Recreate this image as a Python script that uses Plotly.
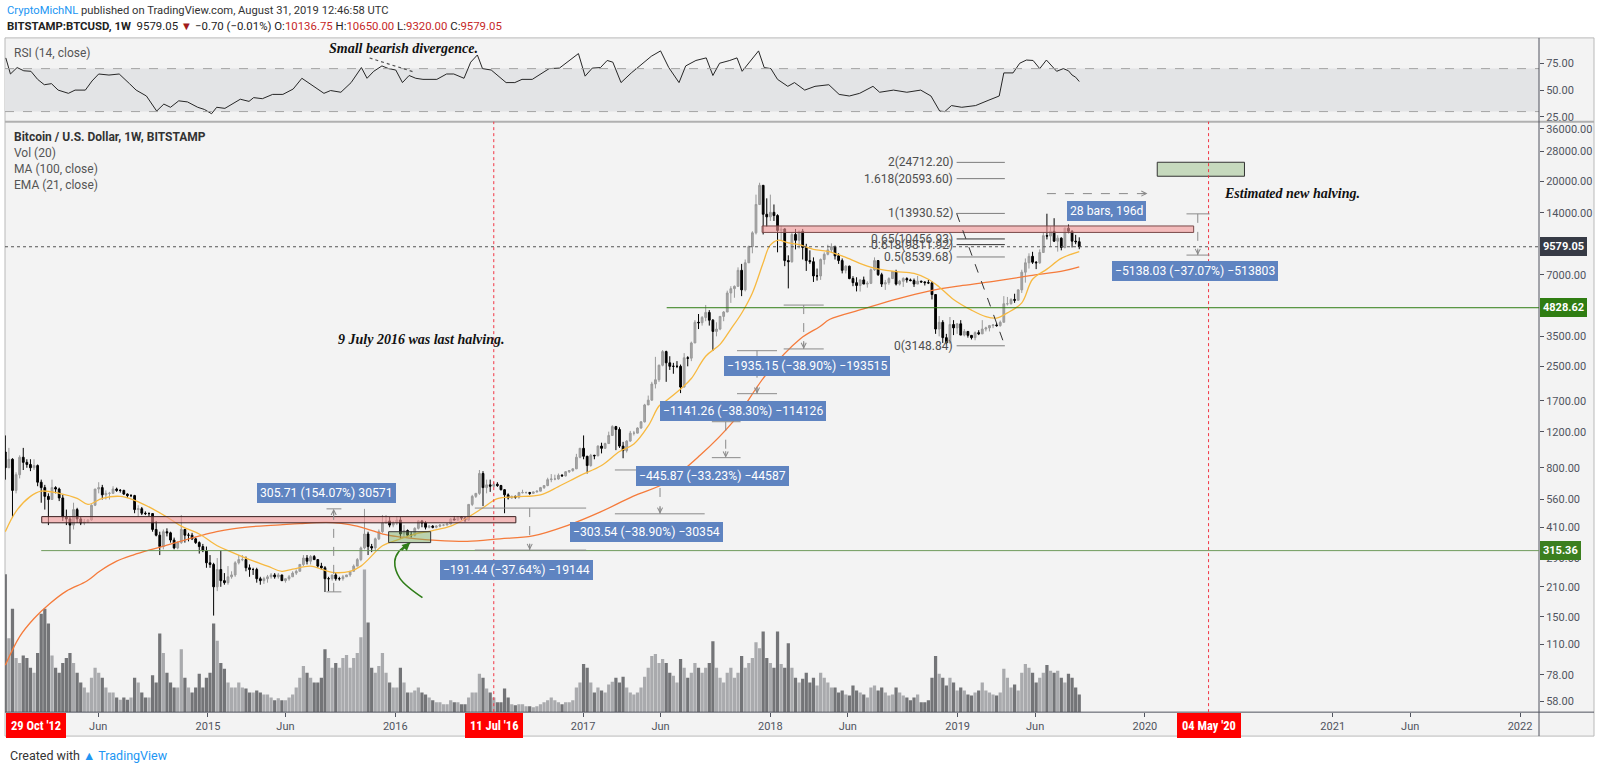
import numpy as np
import pandas as pd
import plotly.graph_objects as go

W, H = 1600, 771

# weekly BITSTAMP:BTCUSD candles, week of 2 Dec 2013 up to the week of 26 Aug 2019
first_week = "2013-12-02"
first_open = 955.0

high_2013 = [1150, 1000, 890, 760, 920]
low_2013 = [700, 800, 455, 600, 710]
close_2013 = [800, 880, 620, 740, 900]

high_2014 = [1000, 880, 880, 880, 830, 700, 660, 600, 700, 650, 640, 590, 500, 460, 540, 510, 460,
             450, 450, 530, 630, 680, 660, 620, 610, 650, 640, 630, 625, 600, 595, 590, 525, 515,
             490, 485, 480, 440, 390, 400, 405, 390, 365, 350, 470, 400, 385, 385, 365, 350, 340, 330]
low_2014 = [780, 800, 770, 780, 650, 540, 500, 420, 560, 600, 550, 440, 420, 340, 400, 430, 420,
            420, 430, 440, 520, 600, 560, 560, 560, 600, 610, 605, 590, 570, 575, 480, 460, 470,
            470, 460, 390, 370, 300, 320, 370, 345, 320, 320, 340, 345, 350, 355, 340, 305, 310, 260]
close_2014 = [850, 830, 800, 820, 680, 640, 580, 560, 640, 630, 570, 460, 450, 420, 500, 450, 430,
              435, 445, 525, 630, 640, 590, 600, 600, 630, 620, 620, 595, 585, 585, 500, 505, 480,
              478, 478, 400, 375, 330, 390, 385, 355, 325, 345, 400, 375, 375, 360, 345, 330, 315, 275]

high_2015 = [300, 275, 290, 315, 245, 265, 250, 280, 300, 300, 295, 270, 260, 260, 235, 235, 240,
             245, 245, 245, 240, 230, 240, 250, 255, 270, 300, 300, 300, 300, 285, 275, 265, 235, 240,
             245, 235, 240, 240, 250, 270, 290, 330, 504, 390, 340, 365, 400, 470, 470, 460, 440]
low_2015 = [260, 152, 200, 210, 215, 215, 230, 235, 270, 280, 250, 235, 240, 220, 215, 217, 220,
            230, 230, 230, 225, 220, 225, 235, 240, 250, 265, 270, 270, 285, 260, 255, 198, 200, 225,
            225, 225, 225, 235, 235, 250, 265, 280, 320, 300, 310, 315, 355, 385, 430, 410, 410]
close_2015 = [270, 210, 255, 225, 220, 235, 240, 275, 285, 285, 260, 255, 255, 230, 225, 230, 235,
              240, 235, 240, 225, 230, 235, 245, 250, 270, 290, 280, 295, 285, 265, 260, 230, 230, 240,
              230, 230, 235, 240, 250, 265, 285, 325, 380, 330, 325, 360, 390, 430, 440, 420, 430]

high_2016 = [465, 460, 420, 400, 390, 410, 445, 445, 440, 420, 420, 420, 425, 425, 430, 455, 465,
             465, 465, 460, 530, 590, 600, 780, 770, 700, 700, 680, 680, 660, 630, 600, 585, 585, 610,
             625, 612, 610, 612, 620, 645, 655, 715, 745, 740, 750, 745, 770, 775, 795, 935, 1000]
low_2016 = [420, 360, 365, 370, 365, 370, 400, 410, 400, 405, 405, 405, 410, 415, 420, 425, 445,
            440, 445, 435, 440, 520, 570, 590, 520, 600, 610, 640, 645, 620, 480, 560, 565, 565, 565,
            600, 600, 590, 598, 605, 615, 630, 650, 680, 695, 700, 725, 725, 755, 765, 790, 890]
close_2016 = [445, 380, 395, 375, 375, 405, 440, 430, 410, 415, 410, 415, 420, 420, 425, 450, 445,
              460, 455, 445, 530, 580, 600, 750, 640, 660, 650, 665, 655, 625, 590, 570, 580, 575, 605,
              605, 605, 600, 610, 615, 640, 655, 700, 705, 705, 735, 730, 765, 775, 790, 900, 995]

high_2017 = [1150, 915, 935, 925, 1030, 1060, 1060, 1200, 1290, 1280, 1260, 1070, 1090, 1210, 1210,
             1260, 1350, 1640, 1800, 2100, 2780, 2550, 3000, 2980, 2800, 2600, 2650, 2550, 2900, 2800,
             3300, 4200, 4500, 4400, 4980, 4700, 4250, 4100, 4400, 4650, 5850, 6150, 6200, 7600, 7900,
             8300, 9700, 11400, 17200, 19666, 19100, 16500]
low_2017 = [880, 750, 810, 880, 910, 940, 990, 1050, 1150, 975, 1000, 890, 950, 1070, 1150, 1180,
            1240, 1330, 1620, 1700, 1950, 2100, 2500, 2100, 2400, 2300, 2450, 1850, 1970, 2500, 2650,
            3250, 3800, 3950, 4150, 3950, 2970, 3500, 3750, 4150, 4600, 5100, 5400, 6100, 5500, 5800,
            8000, 8900, 11000, 15300, 11000, 12000]
close_2017 = [910, 820, 920, 915, 1020, 995, 1050, 1150, 1270, 1230, 1020, 970, 1080, 1180, 1180,
              1250, 1340, 1620, 1710, 2050, 2150, 2530, 2950, 2600, 2500, 2500, 2500, 1980, 2750, 2740,
              3250, 4100, 4080, 4330, 4580, 4200, 3700, 3800, 4380, 4600, 5700, 5980, 6140, 7350, 5900,
              8000, 9600, 11200, 15400, 19100, 13800, 13400]

high_2018 = [17200, 15400, 13800, 12100, 11800, 8700, 11200, 11700, 11500, 11700, 9900, 9200, 8500,
             7500, 8400, 9000, 9800, 9950, 9700, 8900, 8400, 7780, 7750, 6880, 6800, 6650, 6850, 6500,
             7500, 8500, 8250, 7150, 6600, 6800, 7300, 7400, 6600, 6800, 6800, 6700, 6700, 6900, 6550,
             6500, 6600, 6500, 5600, 4400, 4200, 3600, 4350, 4200, 4050]
low_2018 = [12800, 12800, 9000, 10300, 7700, 6000, 8000, 9300, 9400, 8300, 7300, 7900, 6450, 6550,
            6600, 7850, 8700, 9000, 8300, 7900, 7100, 7100, 6650, 6150, 5800, 5790, 6300, 6050, 6300,
            7300, 6900, 6100, 5900, 6250, 6680, 6200, 6200, 6100, 6400, 6500, 6100, 6300, 6400, 6200,
            6300, 5300, 3600, 3500, 3250, 3200, 3250, 3550, 3600]
close_2018 = [14100, 13600, 11500, 11700, 8200, 8100, 11000, 10300, 11400, 9500, 8200, 8100, 6900,
              6900, 8300, 8800, 9250, 9600, 8650, 8200, 7350, 7700, 6700, 6400, 6200, 6600, 6300, 6350,
              7400, 8200, 7000, 6300, 6400, 6700, 7250, 6300, 6500, 6700, 6600, 6550, 6300, 6500, 6450,
              6400, 6380, 5600, 3800, 4100, 3450, 3250, 4000, 3850, 4030]

high_2019 = [4200, 3800, 3700, 3550, 3700, 3750, 4200, 3900, 3980, 4000, 4070, 4180, 5500, 5450,
             5370, 5650, 5950, 7400, 8400, 8900, 9050, 8150, 9300, 11300, 13880, 12000, 13200, 10900,
             10650, 11900, 12300, 11550, 10950, 10650]
low_2019 = [3550, 3500, 3450, 3380, 3350, 3550, 3600, 3700, 3700, 3840, 3900, 3900, 4100, 4950, 5000,
            5100, 5250, 5700, 6400, 7500, 7900, 7450, 7900, 8950, 10400, 9600, 10100, 9070, 9200, 9400,
            11150, 9500, 9850, 9320]
close_2019 = [3550, 3700, 3540, 3450, 3650, 3600, 3800, 3850, 3950, 3980, 3950, 4100, 5050, 5050,
              5300, 5250, 5900, 7200, 8000, 8600, 8050, 8000, 8980, 10850, 10800, 11400, 10200, 10550,
              9500, 11800, 11400, 10200, 10136.75, 9579.05]

# weekly volume, thousand BTC
vol_2013 = [560, 300, 420, 220, 200]
vol_2014 = [230, 220, 180, 160, 240, 400, 420, 360, 230, 180, 160, 200, 220, 240, 200, 160, 120,
            100, 80, 140, 180, 160, 140, 100, 80, 80, 60, 50, 60, 50, 60, 140, 120, 80,
            60, 60, 150, 120, 320, 240, 160, 120, 100, 100, 256, 140, 100, 80, 100, 156, 100, 140]
vol_2015 = [160, 360, 290, 200, 176, 120, 100, 100, 120, 100, 96, 80, 80, 88, 80, 72, 72,
            60, 48, 56, 48, 48, 60, 72, 100, 140, 188, 160, 140, 120, 120, 140, 256, 220, 180,
            200, 180, 220, 232, 180, 220, 240, 304, 580, 364, 180, 160, 188, 240, 160, 120, 100]
vol_2016 = [100, 180, 120, 80, 80, 88, 100, 80, 72, 60, 48, 40, 40, 32, 32, 48, 40,
            40, 32, 32, 60, 80, 80, 156, 140, 96, 80, 60, 40, 40, 96, 60, 32, 28, 32,
            32, 24, 24, 20, 24, 32, 40, 48, 60, 48, 40, 32, 40, 40, 48, 100, 120]
vol_2017 = [196, 180, 120, 80, 100, 88, 80, 112, 124, 140, 120, 144, 100, 80, 72, 80, 100,
            144, 180, 228, 236, 200, 216, 200, 160, 148, 120, 216, 180, 140, 160, 200, 180, 160, 180,
            200, 288, 180, 140, 120, 160, 180, 140, 160, 228, 180, 200, 220, 284, 260, 328, 220]
vol_2018 = [200, 180, 328, 196, 180, 280, 180, 140, 120, 136, 160, 120, 140, 108, 160, 140, 120, 100,
            100, 80, 88, 72, 68, 108, 88, 80, 72, 60, 100, 108, 88, 100, 80, 68, 72,
            100, 80, 68, 60, 48, 60, 72, 40, 40, 48, 140, 228, 156, 140, 108, 140, 120, 88]
vol_2019 = [100, 88, 72, 68, 80, 88, 120, 88, 80, 72, 68, 80, 176, 140, 100, 112, 88,
            160, 196, 180, 160, 120, 140, 160, 192, 168, 160, 168, 140, 120, 156, 140, 100, 72]

# indicators
ema_dates = ["2013-12-02", "2013-12-23", "2014-01-20", "2014-02-10", "2014-03-17", "2014-04-21",
             "2014-05-12", "2014-06-09", "2014-07-14", "2014-08-11", "2014-09-08", "2014-10-13",
             "2014-11-10", "2014-12-15", "2015-01-19", "2015-02-16", "2015-03-23", "2015-04-27",
             "2015-05-25", "2015-06-15", "2015-07-20", "2015-08-10", "2015-08-31", "2015-10-05",
             "2015-10-26", "2015-11-09", "2015-12-07", "2016-01-11", "2016-02-08", "2016-03-14",
             "2016-04-18", "2016-05-16", "2016-06-20", "2016-07-18", "2016-08-22", "2016-10-10",
             "2016-11-14", "2016-12-26", "2017-02-06", "2017-03-13", "2017-04-10", "2017-05-08",
             "2017-05-29", "2017-06-12", "2017-07-10", "2017-07-31", "2017-08-28", "2017-09-25",
             "2017-10-16", "2017-11-06", "2017-11-27", "2017-12-18", "2017-12-31", "2018-01-15",
             "2018-02-05", "2018-02-26", "2018-03-26", "2018-04-23", "2018-05-28", "2018-07-09",
             "2018-08-06", "2018-09-03", "2018-10-08", "2018-11-05", "2018-11-26", "2018-12-24",
             "2019-01-28", "2019-02-25", "2019-03-18", "2019-04-08", "2019-05-06", "2019-05-27",
             "2019-06-24", "2019-07-22", "2019-08-26"]
ema_values = [390, 490, 580, 615, 600, 567, 530, 567, 580, 555, 515, 460, 415, 380,
              333, 310, 285, 265, 250, 256, 265, 256, 247, 250, 265, 285, 333,
              360, 380, 395, 415, 450, 510, 565, 577, 590, 647, 732,
              820, 960, 1045, 1280, 1600, 1700, 1940, 2180, 2800, 3200, 3800, 4540, 5700, 8000, 9700,
              10300, 10000, 9800, 9300, 9100, 8500, 7700, 7400, 7250, 7100, 6650, 6100, 5300,
              4700, 4370, 4300, 4560, 5100, 6650, 7450, 8400, 9060]

ma_dates = ["2013-12-02", "2013-12-30", "2014-01-27", "2014-02-27", "2014-03-31", "2014-05-10",
            "2014-06-04", "2014-07-07", "2014-08-08", "2014-09-10", "2014-10-13", "2014-11-13",
            "2014-12-16", "2015-01-18", "2015-02-18", "2015-03-23", "2015-04-26", "2015-05-27",
            "2015-06-29", "2015-08-01", "2015-09-01", "2015-10-04", "2015-11-06", "2015-12-08",
            "2016-01-10", "2016-02-12", "2016-03-14", "2016-05-20", "2016-07-23", "2016-09-25",
            "2016-12-01", "2017-02-03", "2017-04-08", "2017-06-13", "2017-08-17", "2017-10-20",
            "2017-12-25", "2018-02-28", "2018-04-07", "2018-04-27", "2018-06-30", "2018-09-04",
            "2018-11-08", "2019-01-11", "2019-03-18", "2019-05-22", "2019-07-28", "2019-08-26"]
ma_values = [87, 120, 147, 174, 200, 224, 250, 280, 300, 318, 335, 353, 372,
             390, 403, 412, 418, 422, 427, 432, 432, 422, 403, 380,
             368, 360, 355, 350, 360, 372, 418, 486, 580, 680, 920, 1340, 2300,
             3400, 3900, 4240, 4750, 5320, 5840, 6200, 6530, 6920, 7330, 7650]

rsi_dates = ["2013-12-03", "2013-12-12", "2013-12-25", "2014-01-07", "2014-01-21", "2014-02-03",
             "2014-02-16", "2014-03-02", "2014-03-15", "2014-04-04", "2014-04-17", "2014-05-07",
             "2014-05-20", "2014-06-02", "2014-06-22", "2014-07-12", "2014-08-01", "2014-08-14",
             "2014-09-03", "2014-09-23", "2014-10-07", "2014-10-20", "2014-11-05", "2014-11-22",
             "2014-12-12", "2014-12-25", "2015-01-08", "2015-01-18", "2015-02-03", "2015-02-17",
             "2015-03-05", "2015-03-22", "2015-03-31", "2015-04-17", "2015-05-07", "2015-05-27",
             "2015-06-16", "2015-07-03", "2015-07-19", "2015-08-02", "2015-08-15", "2015-08-28",
             "2015-09-17", "2015-10-07", "2015-10-27", "2015-11-07", "2015-11-20", "2015-12-06",
             "2015-12-19", "2016-01-02", "2016-01-15", "2016-01-28", "2016-02-10", "2016-02-24",
             "2016-03-22", "2016-04-10", "2016-04-24", "2016-05-14", "2016-05-27", "2016-06-09",
             "2016-06-19", "2016-07-06", "2016-07-19", "2016-08-04", "2016-08-21", "2016-09-04",
             "2016-09-24", "2016-10-14", "2016-10-27", "2016-11-16", "2016-12-06", "2016-12-23",
             "2017-01-05", "2017-01-19", "2017-02-04", "2017-02-17", "2017-02-28", "2017-03-16",
             "2017-04-05", "2017-04-25", "2017-05-14", "2017-06-01", "2017-06-17", "2017-07-07",
             "2017-07-20", "2017-08-09", "2017-08-29", "2017-09-11", "2017-09-24", "2017-10-14",
             "2017-10-28", "2017-11-07", "2017-11-21", "2017-12-09", "2017-12-20", "2018-01-02",
             "2018-01-15", "2018-02-04", "2018-02-17", "2018-03-09", "2018-03-29", "2018-04-25",
             "2018-05-15", "2018-06-04", "2018-06-24", "2018-07-20", "2018-08-02", "2018-08-29",
             "2018-09-24", "2018-10-21", "2018-11-10", "2018-11-27", "2018-12-07", "2018-12-20",
             "2019-01-09", "2019-02-05", "2019-03-03", "2019-03-23", "2019-04-01", "2019-04-19",
             "2019-05-02", "2019-05-15", "2019-05-28", "2019-06-10", "2019-06-23", "2019-07-13",
             "2019-07-26", "2019-08-05", "2019-08-12", "2019-08-19", "2019-08-26"]
rsi_values = [80, 65, 71, 68, 67.5, 60, 55, 56, 50, 47, 50, 50, 58.5, 65, 64, 65, 56, 50, 44.5, 30.5,
              37, 34, 40, 39, 34, 32, 28, 34, 33, 37, 41.5, 39.5, 43, 42, 46, 46, 51, 61, 56, 51,
              47, 49.6, 48, 57, 71, 61, 67.5, 72.5, 70, 68.7, 57, 63.6, 61, 60, 60, 65, 65, 61, 76, 82.7,
              70, 68.7, 63.6, 57, 57, 60, 60, 66, 70, 70.5, 77.6, 84, 63, 70.5, 71, 77.6, 76, 57, 66, 74,
              81.5, 86.5, 71, 57, 72.5, 77.6, 80, 63.6, 75, 77.6, 80, 67.5, 76, 86.5, 71, 70, 60, 53.5,
              57, 50, 53.5, 55, 46, 44.5, 47, 53.5, 48, 50, 48, 50, 44.5, 30.5, 30, 35.6, 34, 35.6,
              40.7, 44.5, 66, 66, 75, 78, 77.6, 70, 78, 67.5, 70, 68, 64, 62, 58]

# drawings on the chart
fib_names = ["2", "1.618", "1", "0.65", "0.618", "0.5", "0"]
fib_prices = [24712.20, 20593.60, 13930.52, 10456.93, 9811.92, 8539.68, 3148.84]

m_from = [198.40, 508.60, 780.30, 1341.80, 2979.80, 4974.65, 13860.30]
m_to = [504.11, 317.16, 476.76, 895.93, 1838.54, 3039.50, 8722.27]
m_x0 = ["2015-08-20", "2016-06-04", "2017-03-04", "2017-09-09", "2017-10-28", "2018-01-27", "2020-03-22"]
m_x1 = ["2015-09-18", "2017-01-07", "2017-08-26", "2017-11-04", "2018-01-14", "2018-04-15", "2020-05-06"]
m_mid = ["2015-09-03", "2016-09-19", "2017-05-31", "2017-10-06", "2017-12-06", "2018-03-07", "2020-04-13"]
m_text = ["305.71 (154.07%) 30571", "\u2212191.44 (\u221237.64%) \u221219144",
          "\u2212303.54 (\u221238.90%) \u221230354", "\u2212445.87 (\u221233.23%) \u221244587",
          "\u22121141.26 (\u221238.30%) \u2212114126", "\u22121935.15 (\u221238.90%) \u2212193515",
          "\u22125138.03 (\u221237.07%) \u2212513803"]
m_label_x = ["2015-08-19", "2016-08-24", "2017-05-05", "2017-09-11", "2017-11-08", "2018-03-13", "2020-04-07"]
m_label_y = [602, 255, 390, 731, 1507, 2523, 7270]

price_ticks = [36000, 28000, 20000, 14000, 7000, 3500, 2500, 1700, 1200, 800, 560, 410, 290, 210, 150, 110, 78, 58]
x_tick_dates = ["2014-06-01", "2015-01-01", "2015-06-01", "2016-01-01", "2017-01-01", "2017-06-01",
                "2018-01-01", "2018-06-01", "2019-01-01", "2019-06-01", "2020-01-01", "2021-01-01",
                "2021-06-01", "2022-01-01"]
x_tick_text = ["Jun", "2015", "Jun", "2016", "2017", "Jun", "2018", "Jun", "2019", "Jun", "2020", "2021", "Jun", "2022"]

# ---- assemble
high = high_2013 + high_2014 + high_2015 + high_2016 + high_2017 + high_2018 + high_2019
low = low_2013 + low_2014 + low_2015 + low_2016 + low_2017 + low_2018 + low_2019
close = close_2013 + close_2014 + close_2015 + close_2016 + close_2017 + close_2018 + close_2019
volume = vol_2013 + vol_2014 + vol_2015 + vol_2016 + vol_2017 + vol_2018 + vol_2019
weeks = pd.date_range(first_week, periods=len(close), freq="7D")
opens = [first_open] + close[:-1]
vol_colors = ["#a9aaad" if c >= o else "#737477" for o, c in zip(opens, close)]


def px(x):
    return x / W


def py(y):
    return 1 - y / H


L, R = 5, 1539          # plot left edge, price scale line
FR, FB = 1594, 738      # outer frame right / bottom
RSI_T, RSI_B = 38, 122
P_T, P_B = 122, 714
lg = np.log10

fig = go.Figure()
fig.add_trace(go.Bar(x=weeks, y=volume, marker=dict(color=vol_colors, line_width=0),
                     width=7 * 86400000 * 0.9, xaxis="x", yaxis="y", hoverinfo="skip"))
fig.add_trace(go.Candlestick(
    x=weeks, open=opens, high=high, low=low, close=close, xaxis="x", yaxis="y2",
    increasing=dict(line=dict(color="#9a9a9a", width=1), fillcolor="#a6a6a6"),
    decreasing=dict(line=dict(color="#000000", width=1), fillcolor="#000000"),
    whiskerwidth=0))
fig.add_trace(go.Scatter(x=ma_dates, y=ma_values, mode="lines", xaxis="x", yaxis="y2",
                         line=dict(color="#f57b3b", width=1.3, shape="spline")))
fig.add_trace(go.Scatter(x=ema_dates, y=ema_values, mode="lines", xaxis="x", yaxis="y2",
                         line=dict(color="#f7b940", width=1.3, shape="spline")))
fig.add_trace(go.Scatter(x=rsi_dates, y=rsi_values, mode="lines", xaxis="x2", yaxis="y3",
                         line=dict(color="#262626", width=1)))

# green hand-drawn arrow
arrow_dates = ["2016-02-23", "2016-01-10", "2015-12-31", "2016-01-08", "2016-01-30"]
arrow_prices = [186, 231, 279, 312, 345]
fig.add_trace(go.Scatter(x=arrow_dates, y=arrow_prices, mode="lines", xaxis="x", yaxis="y2",
                         line=dict(color="#2f7d18", width=1.6, shape="spline")))

shapes = []
# chart frame and panel background
shapes.append(dict(type="rect", xref="paper", yref="paper", x0=px(L), x1=px(FR), y0=py(FB), y1=py(RSI_T),
                   fillcolor="#f3f3f3", line=dict(color="#b9b9b9", width=1), layer="below"))
shapes.append(dict(type="rect", xref="x2 domain", yref="y3", x0=0, x1=1, y0=30, y1=70,
                   fillcolor="#e3e4e6", line_width=0, layer="below"))
for lvl in (30, 70):
    shapes.append(dict(type="line", xref="x2 domain", yref="y3", x0=0, x1=1, y0=lvl, y1=lvl,
                       line=dict(color="#a3a3a3", width=1, dash="dash")))
shapes.append(dict(type="line", xref="paper", yref="paper", x0=px(L), x1=px(FR), y0=py(P_T), y1=py(P_T),
                   line=dict(color="#b0b0b0", width=2)))
shapes.append(dict(type="line", xref="paper", yref="paper", x0=px(R), x1=px(R), y0=py(FB), y1=py(RSI_T),
                   line=dict(color="#50535e", width=1)))
shapes.append(dict(type="line", xref="paper", yref="paper", x0=px(L), x1=px(FR), y0=py(P_B), y1=py(P_B),
                   line=dict(color="#50535e", width=1)))

# RSI divergence line
shapes.append(dict(type="line", xref="x2", yref="y3", x0="2015-11-12", y0=79.9, x1="2016-02-06", y1=66.9,
                   line=dict(color="#555555", width=1.2, dash="dot")))

# zones
shapes.append(dict(type="rect", xref="x", yref="y2", x0="2014-02-11", x1="2016-08-23", y0=431, y1=462,
                   fillcolor="rgba(244,150,150,0.6)", line=dict(color="#3b2222", width=1)))
shapes.append(dict(type="rect", xref="x", yref="y2", x0="2017-12-16", x1="2020-04-05", y0=11250, y1=12100,
                   fillcolor="rgba(244,150,150,0.6)", line=dict(color="#7a4a4a", width=1)))
shapes.append(dict(type="rect", xref="x", yref="y2", x0="2015-12-19", x1="2016-03-10", y0=345, y1=390,
                   fillcolor="rgba(120,170,90,0.45)", line=dict(color="#333333", width=1)))
shapes.append(dict(type="rect", xref="x", yref="y2", x0="2020-01-25", x1="2020-07-13", y0=21150, y1=24750,
                   fillcolor="#c6d9bd", line=dict(color="#333333", width=1)))

# horizontal levels
x_end = "2022-02-07"
shapes.append(dict(type="line", xref="x", yref="y2", x0="2014-02-10", x1=x_end, y0=315.36, y1=315.36,
                   line=dict(color="#6f9a5c", width=1)))
shapes.append(dict(type="line", xref="x", yref="y2", x0="2017-06-13", x1=x_end, y0=4828.62, y1=4828.62,
                   line=dict(color="#2f7d12", width=1)))
shapes.append(dict(type="line", xref="x domain", yref="y2", x0=0, x1=1, y0=9579.05, y1=9579.05,
                   line=dict(color="#555555", width=1, dash="dot")))

# halving lines
for d in ("2016-07-11", "2020-05-04"):
    shapes.append(dict(type="line", xref="x", yref="paper", x0=d, x1=d, y0=py(P_B), y1=py(P_T),
                       line=dict(color="#f23645", width=1, dash="dot")))

# fibonacci
for name, p in zip(fib_names, fib_prices):
    col = "#333333" if name in ("0.65", "0.618") else "#7d7d7d"
    shapes.append(dict(type="line", xref="x", yref="y2", x0="2018-12-30", x1="2019-04-03", y0=p, y1=p,
                       line=dict(color=col, width=1)))
shapes.append(dict(type="line", xref="x", yref="y2", x0="2018-12-30", y0=fib_prices[2],
                   x1="2019-04-03", y1=fib_prices[6], line=dict(color="#333333", width=1, dash="dash")))

# price range measurements
for a, b, x0, x1, xm in zip(m_from, m_to, m_x0, m_x1, m_mid):
    for p in (a, b):
        shapes.append(dict(type="line", xref="x", yref="y2", x0=x0, x1=x1, y0=p, y1=p,
                           line=dict(color="#8a8a8a", width=1)))
    shapes.append(dict(type="line", xref="x", yref="y2", x0=xm, x1=xm, y0=a, y1=b,
                       line=dict(color="#8a8a8a", width=1, dash="dash")))

# date range "28 bars"
shapes.append(dict(type="line", xref="x", yref="y2", x0="2019-06-24", x1="2020-01-06", y0=17400, y1=17400,
                   line=dict(color="#8a8a8a", width=1, dash="dash")))

ann = []
base_font = "Roboto, Arial, sans-serif"
narrow_font = "Liberation Sans Narrow, Roboto Condensed, Roboto, sans-serif"
ann.append(dict(xref="paper", yref="paper", x=px(5), y=py(11), xanchor="left", yanchor="middle", showarrow=False,
                text="<span style='color:#2196f3'>CryptoMichNL</span> published on TradingView.com, August 31, 2019 12:46:58 UTC",
                font=dict(family=base_font, size=11.2, color="#333333")))
ann.append(dict(xref="paper", yref="paper", x=px(5), y=py(26), xanchor="left", yanchor="middle", showarrow=False,
                text="<b>BITSTAMP:BTCUSD, 1W</b>  9579.05 <span style='color:#a11b1b'>\u25bc</span> \u22120.70 (\u22120.01%) "
                     "O:<span style='color:#c62828'>10136.75</span> H:<span style='color:#c62828'>10650.00</span> "
                     "L:<span style='color:#c62828'>9320.00</span> C:<span style='color:#c62828'>9579.05</span>",
                font=dict(family=base_font, size=11.4, color="#222222")))
ann.append(dict(xref="paper", yref="paper", x=px(12), y=py(53), xanchor="left", yanchor="middle", showarrow=False,
                text="RSI (14, close)", font=dict(family=base_font, size=12, color="#555555")))
legend_rows = [("<b>Bitcoin / U.S. Dollar, 1W, BITSTAMP</b>", 137, "#333333"), ("Vol (20)", 153, "#555555"),
               ("MA (100, close)", 169, "#555555"), ("EMA (21, close)", 185, "#555555")]
for txt, yy, col in legend_rows:
    ann.append(dict(xref="paper", yref="paper", x=px(12), y=py(yy), xanchor="left", yanchor="middle",
                    showarrow=False, text=txt, font=dict(family=base_font, size=12, color=col)))

serif = dict(family="Liberation Serif, Times New Roman, serif", size=14, color="#111111")
ann.append(dict(xref="x2", yref="y3", x="2015-08-21", y=88.5, xanchor="left", yanchor="middle", showarrow=False,
                text="<b><i>Small bearish divergence.</i></b>", font=serif))
ann.append(dict(xref="x", yref="y2", x="2016-08-03", y=lg(3390), xanchor="right", yanchor="middle", showarrow=False,
                text="<b><i>9 July 2016 was last halving.</i></b>", font=serif))
ann.append(dict(xref="x", yref="y2", x="2020-05-30", y=lg(17370), xanchor="left", yanchor="middle", showarrow=False,
                text="<b><i>Estimated new halving.</i></b>", font=serif))

for name, p in zip(fib_names, fib_prices):
    ann.append(dict(xref="x", yref="y2", x="2018-12-26", y=lg(p), xanchor="right", yanchor="middle",
                    showarrow=False, text=f"{name}({p:.2f})", font=dict(family=base_font, size=12, color="#4e4e4e")))

box_blue = "#5f84c1"
box_font = dict(family=base_font, size=12.2, color="white")
for txt, lx, ly in zip(m_text, m_label_x, m_label_y):
    ann.append(dict(xref="x", yref="y2", x=lx, y=lg(ly), xanchor="center", yanchor="middle", showarrow=False,
                    text=txt, bgcolor=box_blue, bordercolor=box_blue, borderpad=2, font=box_font))
for a, b, xm in zip(m_from, m_to, m_mid):
    ann.append(dict(xref="x", yref="y2", x=xm, y=lg(b), ax=0, ay=(8 if b > a else -8), showarrow=True,
                    arrowhead=5, arrowsize=1, arrowwidth=1, arrowcolor="#8a8a8a", text=""))
ann.append(dict(xref="x", yref="y2", x="2019-10-18", y=lg(14250), xanchor="center", yanchor="middle", showarrow=False,
                text="28 bars, 196d", bgcolor=box_blue, bordercolor=box_blue, borderpad=2, font=box_font))
ann.append(dict(xref="x", yref="y2", x="2020-01-06", y=lg(17400), ax=-8, ay=0, showarrow=True,
                arrowhead=5, arrowsize=1, arrowwidth=1, arrowcolor="#8a8a8a", text=""))
ann.append(dict(xref="x", yref="y2", x=arrow_dates[-1], y=lg(arrow_prices[-1]), ax=-10, ay=9, showarrow=True,
                arrowhead=2, arrowsize=1, arrowwidth=1.6, arrowcolor="#2f7d18", text=""))

# price scale badges
for val, col in ((9579.05, "#363a45"), (4828.62, "#2f7d12"), (315.36, "#3b7f1f")):
    ann.append(dict(xref="paper", yref="y2", x=px(R + 1), y=lg(val), xanchor="left", yanchor="middle",
                    showarrow=False, text=f"<b>{val:.2f}</b>", bgcolor=col, bordercolor=col, borderpad=2,
                    font=dict(family=base_font, size=11, color="white")))

# time scale badges
date_font = dict(family=narrow_font, size=12.5, color="white")
ann.append(dict(xref="paper", yref="paper", x=px(L + 1), y=py(727), xanchor="left", yanchor="middle",
                showarrow=False, text="<b>29 Oct '12</b>", bgcolor="#ff0000", bordercolor="#ff0000",
                borderpad=4, font=date_font))
for d, t in (("2016-07-11", "11 Jul '16"), ("2020-05-04", "04 May '20")):
    ann.append(dict(xref="x", yref="paper", x=d, y=py(727), xanchor="center", yanchor="middle",
                    showarrow=False, text=f"<b>{t}</b>", bgcolor="#ff0000", bordercolor="#ff0000",
                    borderpad=4, font=date_font))

ann.append(dict(xref="paper", yref="paper", x=px(8), y=py(757), xanchor="left", yanchor="middle", showarrow=False,
                text="Created with <span style='color:#2196f3'>\u25b2 TradingView</span>",
                font=dict(family=base_font, size=12.5, color="#333333")))

axis_font = dict(family=base_font, size=11, color="#50535e")
fig.update_layout(
    width=W, height=H, margin=dict(l=0, r=0, t=0, b=0, pad=0),
    paper_bgcolor="white", plot_bgcolor="rgba(0,0,0,0)", showlegend=False,
    shapes=shapes, annotations=ann,
    xaxis=dict(domain=[px(L), px(R)], anchor="y", type="date", range=["2013-12-01 10:00", x_end],
               tickvals=x_tick_dates, ticktext=x_tick_text, ticks="outside", ticklen=4,
               tickcolor="#50535e", tickfont=axis_font, showgrid=False, zeroline=False,
               rangeslider=dict(visible=False), showline=False),
    xaxis2=dict(domain=[px(L), px(R)], anchor="y3", matches="x", showticklabels=False,
                showgrid=False, zeroline=False, ticks=""),
    yaxis=dict(domain=[py(P_B), py(P_T)], range=[0, 2400], visible=False),
    yaxis2=dict(overlaying="y", anchor="x", side="right", type="log", range=[1.7107, 4.5915],
                tickvals=price_ticks, ticktext=[f"{v:.2f}" for v in price_ticks], ticks="outside",
                ticklen=4, tickcolor="#50535e", tickfont=axis_font, showgrid=False, zeroline=False),
    yaxis3=dict(domain=[py(RSI_B), py(RSI_T)], anchor="x2", side="right", range=[20.6, 98.6],
                tickvals=[25, 50, 75], ticktext=["25.00", "50.00", "75.00"], ticks="outside", ticklen=4,
                tickcolor="#50535e", tickfont=axis_font, showgrid=False, zeroline=False),
)

# the page body gets no margin, so the figure sits at the window's top-left corner
fig.write_html("out.html", config={"displayModeBar": False},
               post_script="document.body.style.margin = '0';")
